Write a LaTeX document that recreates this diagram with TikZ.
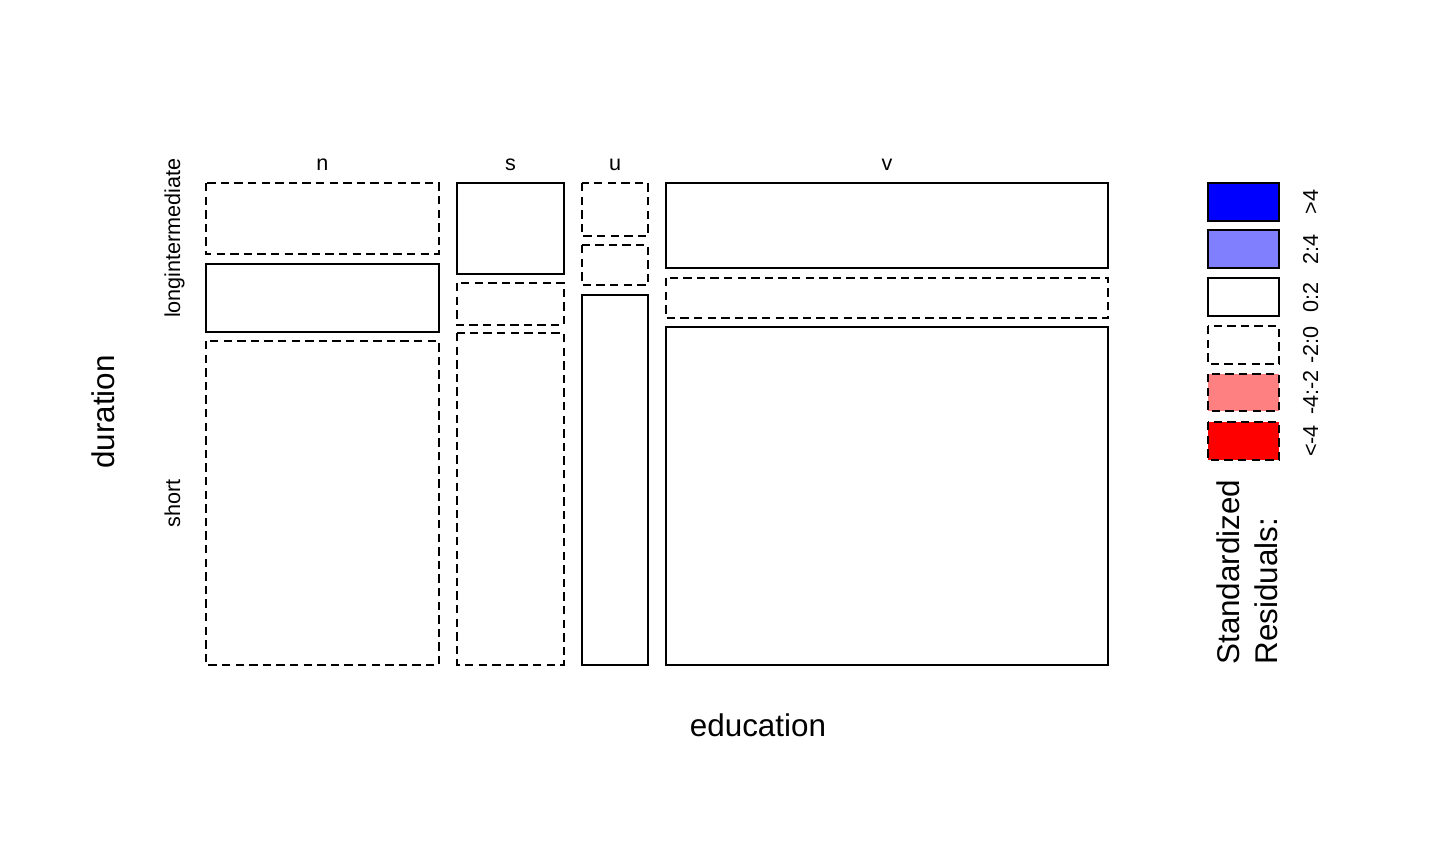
\documentclass[tikz,border=0pt]{standalone}
\usepackage{fontspec}
\setmainfont{Liberation Sans}
\definecolor{resblue}{RGB}{0,0,255}
\definecolor{reslblue}{RGB}{128,128,255}
\definecolor{reslred}{RGB}{255,128,128}
\definecolor{resred}{RGB}{255,0,0}
\tikzset{
  tile/.style={draw=black, line width=1pt},
  postile/.style={tile},
  negtile/.style={tile, dash pattern=on 4.2pt off 2.6pt},
  big/.style={font=\fontsize{15.7}{18}\selectfont, inner sep=0pt},
  small/.style={font=\fontsize{10.8}{12}\selectfont, inner sep=0pt},
}
\begin{document}
\begin{tikzpicture}[x=0.5pt,y=-0.5pt]
\useasboundingbox[fill=white] (0,0) rectangle (1440,864);
% column n
\draw[negtile] (206,183) rectangle (439,254);
\draw[postile] (206,264) rectangle (439,332);
\draw[negtile] (206,341) rectangle (439,665);
% column s
\draw[postile] (457,183) rectangle (564,274);
\draw[negtile] (457,283) rectangle (564,325);
\draw[negtile] (457,333) rectangle (564,665);
% column u
\draw[negtile] (582,183) rectangle (648,236);
\draw[negtile] (582,245) rectangle (648,285);
\draw[postile] (582,295) rectangle (648,665);
% column v
\draw[postile] (666,183) rectangle (1108,268);
\draw[negtile] (666,278) rectangle (1108,318);
\draw[postile] (666,327) rectangle (1108,665);
% column labels
\node[small, anchor=base] (ln) at (322.5,170) {n};
\node[small, anchor=base] (ls) at (510.5,170) {s};
\node[small, anchor=base] (lu) at (615,170) {u};
\node[small, anchor=base] (lv) at (887,170) {v};
% row labels
\node[small, rotate=90, anchor=base] (llong) at (180,238) {longintermediate};
\node[small, rotate=90, anchor=base] (lshort) at (180,503) {short};
% axis titles
\node[big, rotate=90, anchor=base] (ydur) at (114,412) {duration};
\node[big, anchor=base] (xedu) at (758,736) {education};
% legend
\draw[postile, fill=resblue] (1208,183) rectangle (1279,221);
\draw[postile, fill=reslblue] (1208,230) rectangle (1279,268);
\draw[postile, fill=white] (1208,278) rectangle (1279,316);
\draw[negtile, fill=white] (1208,326) rectangle (1279,364);
\draw[negtile, fill=reslred] (1208,374) rectangle (1279,411);
\draw[negtile, fill=resred] (1208,422) rectangle (1279,460);
\node[small, rotate=90, anchor=base] (g1) at (1318,202) {>4};
\node[small, rotate=90, anchor=base] (g2) at (1318,249) {2:4};
\node[small, rotate=90, anchor=base] (g3) at (1318,297) {0:2};
\node[small, rotate=90, anchor=base] (g4) at (1318,345) {-2:0};
\node[small, rotate=90, anchor=base] (g5) at (1318,392.5) {-4:-2};
\node[small, rotate=90, anchor=base] (g6) at (1318,441) {<-4};
\node[big, rotate=90, anchor=base west] (st1) at (1239,665) {Standardized};
\node[big, rotate=90, anchor=base west] (st2) at (1277,665) {Residuals:};
\end{tikzpicture}
\end{document}
